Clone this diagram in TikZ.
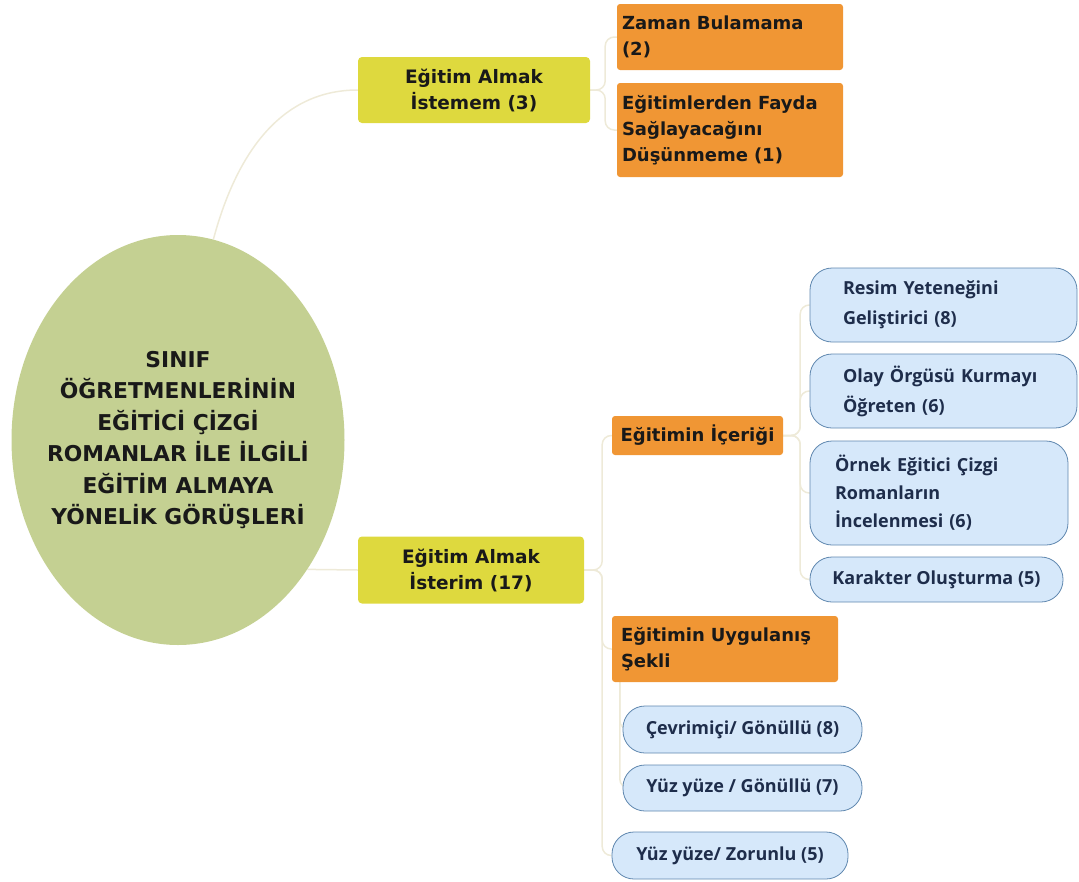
\documentclass[tikz,border=0pt]{standalone}
\usepackage{xcolor}
\usepackage{fontspec}
\usepackage{tikz}
\usetikzlibrary{shapes}
\usetikzlibrary{positioning}
\usetikzlibrary{shapes.geometric}
\usetikzlibrary{backgrounds}
\newfontfamily\boxfont{DejaVu Sans}
\newfontfamily\pillfont{Open Sans}
\definecolor{rootgreen}{RGB}{196,208,146}
\definecolor{yelfill}{RGB}{222,217,62}
\definecolor{orafill}{RGB}{240,150,52}
\definecolor{pillfill}{RGB}{214,232,250}
\definecolor{pilldraw}{RGB}{95,135,175}
\definecolor{pilltext}{RGB}{30,45,75}
\definecolor{linkc}{RGB}{238,234,216}
\tikzset{
    myroot/.style = {ellipse, fill=rootgreen, align=center, text=black!90, font=\boxfont\bfseries\fontsize{21.8}{31.5}\selectfont, minimum width=333pt, minimum height=410pt, inner xsep=-16pt, inner ysep=0pt},
    mynodey/.style = {rectangle, rounded corners=4pt, fill=yelfill, align=center, text=black!90, font=\boxfont\bfseries\fontsize{18.5}{26}\selectfont},
    mynodeo/.style = {rectangle, rounded corners=3pt, fill=orafill, align=left, text=black!90, font=\boxfont\bfseries\fontsize{18}{26}\selectfont},
    mynodeb/.style = {rectangle, rounded corners=22pt, draw=pilldraw, thick, fill=pillfill, align=left, text=pilltext, font=\pillfont\bfseries\fontsize{18}{30}\selectfont},
    link/.style = {draw=linkc, line width=1.5pt, rounded corners=9pt},
}
\begin{document}
\begin{tikzpicture}[x=1pt, y=-1pt]
  \useasboundingbox (0,0) rectangle (1079,881);
  \node[myroot] (root) at (178,440) {SINIF\\ÖĞRETMENLERİNİN\\EĞİTİCİ ÇİZGİ\\ROMANLAR İLE İLGİLİ\\EĞİTİM ALMAYA\\YÖNELİK GÖRÜŞLERİ};
  \node[mynodey, minimum width=232pt, minimum height=66pt] (istemem) at (474,90) {Eğitim Almak\\İstemem (3)};
  \node[mynodey, minimum width=226pt, minimum height=67pt] (isterim) at (471,570) {Eğitim Almak\\İsterim (17)};
  \node[mynodeo, minimum width=226pt, minimum height=66pt, text width=216pt] (zaman) at (730,37) {Zaman Bulamama\\(2)};
  \node[mynodeo, minimum width=226pt, minimum height=94pt, text width=216pt] (fayda) at (730,130) {Eğitimlerden Fayda\\Sağlayacağını\\Düşünmeme (1)};
  \node[mynodeo, minimum width=171pt, minimum height=39pt, align=center] (icerik) at (697.5,435.5) {Eğitimin İçeriği};
  \node[mynodeo, minimum width=226pt, minimum height=66pt, text width=208pt] (sekil) at (725,649) {Eğitimin Uygulanış\\Şekli};
  \node[mynodeb, minimum width=267pt, minimum height=74pt, text width=201pt] (resim) at (943.5,305) {Resim Yeteneğini\\Geliştirici (8)};
  \node[mynodeb, minimum width=267pt, minimum height=74pt, text width=201pt] (olay) at (943.5,391) {Olay Örgüsü Kurmayı\\Öğreten (6)};
  \node[mynodeb, minimum width=258pt, minimum height=104pt, text width=208pt, font=\pillfont\bfseries\fontsize{18}{28}\selectfont] (ornek) at (939,493) {Örnek Eğitici Çizgi\\Romanların\\İncelenmesi (6)};
  \node[mynodeb, minimum width=253pt, minimum height=45pt, align=center] (karakter) at (936.5,579.5) {Karakter Oluşturma (5)};
  \node[mynodeb, minimum width=239pt, minimum height=47pt, align=center] (cevrim) at (742.5,729.5) {Çevrimiçi/ Gönüllü (8)};
  \node[mynodeb, minimum width=239pt, minimum height=46pt, align=center] (yuzgon) at (742.5,788) {Yüz yüze / Gönüllü (7)};
  \node[mynodeb, minimum width=236pt, minimum height=47pt, align=center] (yuzzor) at (730,855.5) {Yüz yüze/ Zorunlu (5)};

  \begin{scope}[on background layer]
  \draw[link] (root.80) to[out=75, in=180] (istemem.west);
  \draw[link] (root.-45) -- (isterim.west);
  \draw[link] (istemem.east) -- ++(15,0) |- (zaman.west);
  \draw[link] (istemem.east) -- ++(15,0) |- (fayda.west);
  \draw[link] (isterim.east) -- ++(18,0) |- (icerik.west);
  \draw[link] (isterim.east) -- ++(18,0) |- (sekil.west);
  \draw[link] (isterim.east) -- ++(18,0) |- (yuzzor.west);
  \draw[link] (icerik.east) -- ++(17,0) |- (resim.west);
  \draw[link] (icerik.east) -- ++(17,0) |- (olay.west);
  \draw[link] (icerik.east) -- ++(17,0) |- (ornek.west);
  \draw[link] (icerik.east) -- ++(17,0) |- (karakter.west);
  \draw[link] ([xshift=8pt]sekil.south west) |- (cevrim.west);
  \draw[link] ([xshift=8pt]sekil.south west) |- (yuzgon.west);
  \end{scope}
\end{tikzpicture}
\end{document}
